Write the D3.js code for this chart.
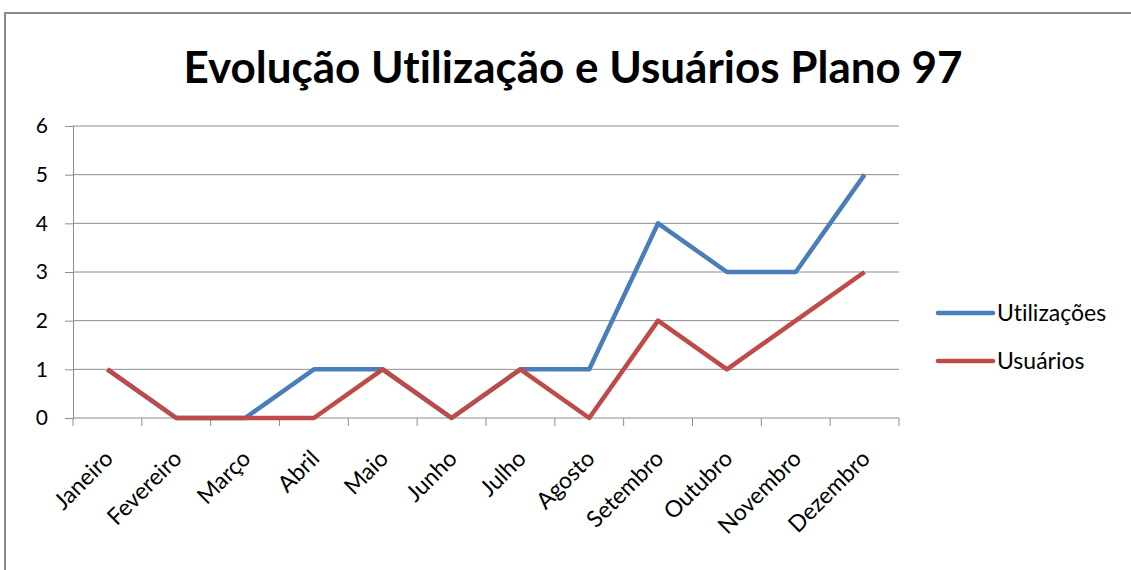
<!DOCTYPE html>
<html>
<head>
<meta charset="utf-8">
<script src="https://cdn.jsdelivr.net/npm/d3@7"></script>
<style>
  body { margin: 0; background: #fff; }
  text { font-family: Lato, "Open Sans", sans-serif; fill: #000; font-variant-ligatures: none; }
</style>
</head>
<body>
<svg id="chart" width="1131" height="570"></svg>
<script>
const months = ["Janeiro", "Fevereiro", "Março", "Abril", "Maio", "Junho",
  "Julho", "Agosto", "Setembro", "Outubro", "Novembro", "Dezembro"];
const utilizacoes = [1, 0, 0, 1, 1, 0, 1, 1, 4, 3, 3, 5];
const usuarios = [1, 0, 0, 0, 1, 0, 1, 0, 2, 1, 2, 3];
const yTicks = [0, 1, 2, 3, 4, 5, 6];
const title = "Evolução Utilização e Usuários Plano 97";

const series = [
  { name: "Utilizações", values: utilizacoes, color: "#4A7EBB" },
  { name: "Usuários", values: usuarios, color: "#BE4B48" }
];

const svg = d3.select("#chart");
const margin = { top: 126, left: 73, right: 232, bottom: 152 };
const width = 1131 - margin.left - margin.right;
const height = 570 - margin.top - margin.bottom;

// chart frame
svg.append("rect")
  .attr("x", 5).attr("y", 13)
  .attr("width", 1140).attr("height", 570)
  .attr("fill", "none").attr("stroke", "#8a8a8a").attr("stroke-width", 2);

svg.append("text")
  .attr("x", 573).attr("y", 83)
  .attr("text-anchor", "middle")
  .attr("font-size", 44).attr("font-weight", "bold")
  .text(title);

const x = d3.scaleBand().domain(months).range([0, width]);
const y = d3.scaleLinear().domain([0, 6]).range([height, 0]);

const g = svg.append("g").attr("transform", `translate(${margin.left},${margin.top})`);

// gridlines
g.append("g")
  .selectAll("line")
  .data(yTicks.filter(d => d > 0))
  .join("line")
  .attr("x1", 0).attr("x2", width)
  .attr("y1", d => y(d)).attr("y2", d => y(d))
  .attr("stroke", "#8c8c8c").attr("stroke-width", 1);

// y axis
const yAxis = g.append("g")
  .call(d3.axisLeft(y).tickValues(yTicks).tickSize(8).tickPadding(17).tickFormat(d3.format("d")));
yAxis.select(".domain").attr("stroke", "#8c8c8c");
yAxis.selectAll(".tick line").attr("stroke", "#8c8c8c");
yAxis.selectAll("text").attr("font-size", 21).attr("fill", "#000")
  .style("font-family", "Lato, 'Open Sans', sans-serif");

// x axis with ticks at category boundaries
const xAxis = g.append("g").attr("transform", `translate(0,${height})`);
xAxis.append("line")
  .attr("x1", 0).attr("x2", width).attr("y1", 0).attr("y2", 0)
  .attr("stroke", "#8c8c8c");
xAxis.selectAll(".bound")
  .data(months.concat(["end"]))
  .join("line")
  .attr("class", "bound")
  .attr("x1", (d, i) => i * x.step()).attr("x2", (d, i) => i * x.step())
  .attr("y1", 0).attr("y2", 8)
  .attr("stroke", "#8c8c8c");
xAxis.selectAll(".lbl")
  .data(months)
  .join("text")
  .attr("class", "lbl")
  .attr("text-anchor", "end")
  .attr("font-size", 23)
  .attr("transform", d => `translate(${x(d) + x.bandwidth() / 2 + 7},${42}) rotate(-45)`)
  .text(d => d);

// lines
const line = d3.line()
  .x((d, i) => x(months[i]) + x.bandwidth() / 2)
  .y(d => y(d));

g.selectAll(".series")
  .data(series)
  .join("path")
  .attr("class", "series")
  .attr("fill", "none")
  .attr("stroke", d => d.color)
  .attr("stroke-width", 4.5)
  .attr("stroke-linejoin", "round")
  .attr("d", d => line(d.values));

// legend
const legend = svg.append("g").attr("transform", "translate(938,313)");
const item = legend.selectAll("g")
  .data(series)
  .join("g")
  .attr("transform", (d, i) => `translate(0,${i * 48})`);
item.append("line")
  .attr("x1", 0).attr("x2", 55)
  .attr("stroke", d => d.color).attr("stroke-width", 4.5).attr("stroke-linecap", "round");
item.append("text")
  .attr("x", 59).attr("dy", "0.35em")
  .attr("font-size", 23)
  .text(d => d.name);
</script>
</body>
</html>
